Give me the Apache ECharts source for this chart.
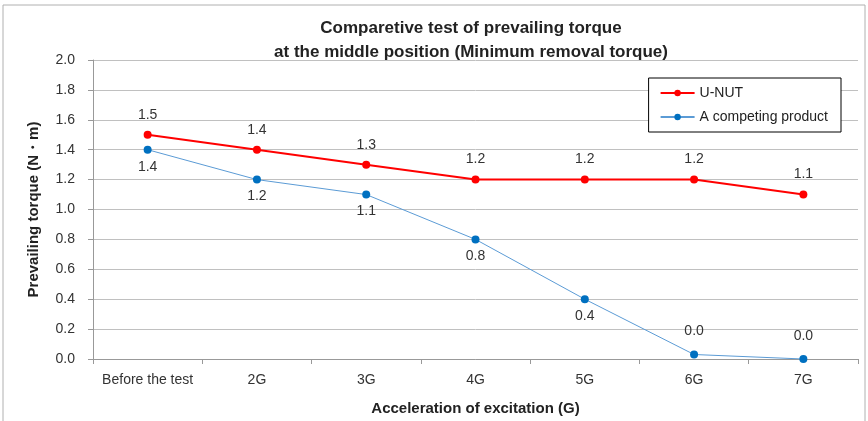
<!DOCTYPE html>
<html>
<head>
<meta charset="utf-8">
<script src="https://cdn.jsdelivr.net/npm/echarts@6/dist/echarts.min.js"></script>
<style>
  html, body { margin: 0; padding: 0; background: #fff; }
  #chart { width: 868px; height: 421px; }
</style>
</head>
<body>
<div id="chart"></div>
<script>
var categories = ['Before the test', '2G', '3G', '4G', '5G', '6G', '7G']
var uNut = [1.5, 1.4, 1.3, 1.2, 1.2, 1.2, 1.1]
var competitor = [1.4, 1.2, 1.1, 0.8, 0.4, 0.03, 0.0]
// which competitor labels sit above the point instead of below
var competitorLabelTop = [false, false, false, false, false, true, true]

var font = "'Liberation Sans', sans-serif"
var chart = echarts.init(document.getElementById('chart'))

chart.setOption({
  animation: false,
  textStyle: { fontFamily: font },
  graphic: [{
    type: 'rect',
    shape: { x: 3, y: 5, width: 862, height: 420 },
    style: { fill: 'none', stroke: '#b0b0b0', lineWidth: 1 }
  }],
  title: {
    text: 'Comparetive test of prevailing torque\nat the middle position (Minimum removal torque)',
    left: 466,
    top: 11,
    textAlign: 'center',
    textStyle: { fontSize: 17, fontWeight: 'bold', color: '#222', lineHeight: 24, fontFamily: font }
  },
  legend: {
    orient: 'vertical',
    right: 27,
    top: 78,
    padding: [8, 13, 8, 11],
    itemGap: 10,
    itemWidth: 34,
    itemHeight: 8,
    borderColor: '#000',
    borderWidth: 1,
    backgroundColor: '#fff',
    textStyle: { fontSize: 14, color: '#222', fontFamily: font },
    data: ['U-NUT', 'A competing product']
  },
  grid: {
    left: 93,
    right: 10,
    top: 60,
    bottom: 62
  },
  xAxis: {
    type: 'category',
    data: categories,
    name: 'Acceleration of excitation (G)',
    nameLocation: 'middle',
    nameGap: 42,
    nameTextStyle: { fontSize: 15, fontWeight: 'bold', color: '#222', fontFamily: font },
    axisLine: { lineStyle: { color: '#999' } },
    axisTick: { show: true, interval: 0, length: 5, lineStyle: { color: '#999' } },
    axisLabel: { interval: 0, fontSize: 14, color: '#333', margin: 14, fontFamily: font }
  },
  yAxis: {
    type: 'value',
    min: 0,
    max: 2,
    interval: 0.2,
    name: 'Prevailing torque (N・m)',
    nameLocation: 'middle',
    nameGap: 52,
    nameTextStyle: { fontSize: 15, fontWeight: 'bold', color: '#222', fontFamily: font },
    axisLine: { show: true, lineStyle: { color: '#999' } },
    axisTick: { show: true, length: 5, lineStyle: { color: '#999' } },
    axisLabel: {
      fontSize: 14, color: '#333', margin: 18, fontFamily: font,
      formatter: function (v) { return v.toFixed(1) }
    },
    splitLine: { lineStyle: { color: '#c0c0c0' } }
  },
  series: [
    {
      name: 'U-NUT',
      type: 'line',
      data: uNut,
      symbol: 'circle',
      symbolSize: 8,
      itemStyle: { color: '#ff0000' },
      lineStyle: { color: '#ff0000', width: 2 },
      label: {
        show: true,
        position: 'top',
        distance: 9,
        fontSize: 14,
        color: '#333',
        fontFamily: font,
        formatter: function (p) { return p.value.toFixed(1) }
      }
    },
    {
      name: 'A competing product',
      type: 'line',
      data: competitor.map(function (v, i) {
        return {
          value: v,
          label: competitorLabelTop[i]
            ? { position: 'top', distance: 12 }
            : { position: 'bottom', distance: 6 }
        }
      }),
      symbol: 'circle',
      symbolSize: 8,
      itemStyle: { color: '#0070c0' },
      lineStyle: { color: '#5b9bd5', width: 1 },
      label: {
        show: true,
        fontSize: 14,
        color: '#333',
        fontFamily: font,
        formatter: function (p) { return p.value.toFixed(1) }
      }
    }
  ]
})
</script>
</body>
</html>
